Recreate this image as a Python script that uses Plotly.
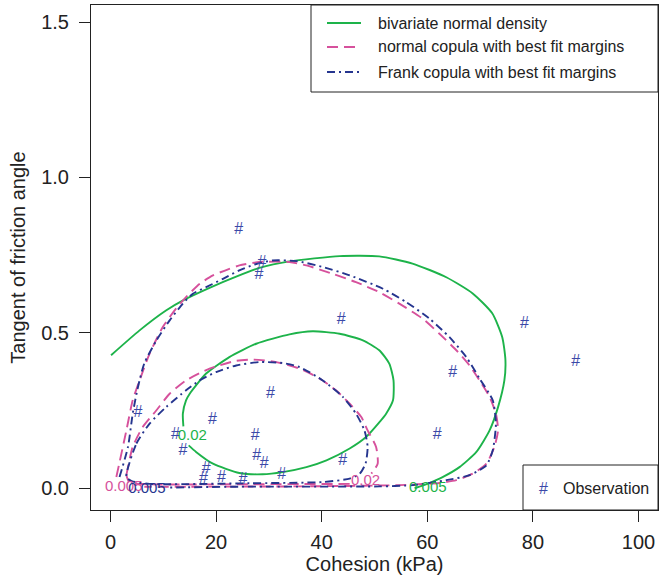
import plotly.graph_objects as go

# ---- observations (Cohesion kPa, tan(phi)) ----
obs_c = [24.3, 28.7, 28.1, 43.7, 30.3, 5.2, 19.3, 12.3, 13.7, 27.4, 27.7,
         29.1, 18.1, 17.6, 21.0, 25.1, 32.4, 44.0, 61.9, 64.8, 78.4, 88.1]
obs_t = [0.832, 0.726, 0.687, 0.543, 0.302, 0.243, 0.220, 0.170, 0.120, 0.167, 0.103,
         0.077, 0.061, 0.029, 0.033, 0.028, 0.042, 0.088, 0.170, 0.370, 0.530, 0.405]

# ---- bivariate normal density contours ----
bn005_c = [0.1, 5.5, 10.5, 14.0, 18.75, 23.8, 28.2, 33.9, 43.4, 50.9, 57.2, 63.6, 68.6,
           72.3, 74.2, 74.8, 74.6, 73.4, 71.8, 69.3, 66.1, 62.9, 60.1, 57.6]
bn005_t = [0.428, 0.508, 0.572, 0.607, 0.645, 0.681, 0.709, 0.730, 0.747, 0.746, 0.723, 0.679,
           0.627, 0.563, 0.486, 0.412, 0.347, 0.261, 0.186, 0.117, 0.068, 0.036, 0.015, 0.0]
bn02_c = [13.8, 13.7, 14.3, 15.0, 16.2, 18.1, 22.5, 27.6, 33.9, 38.3, 43.4, 47.8, 50.9, 52.8,
          53.6, 53.5, 52.2, 50.9, 48.4, 45.3, 40.9, 37.1, 32.6, 28.8, 24.4, 19.4, 16.2, 14.8]
bn02_t = [0.199, 0.240, 0.283, 0.304, 0.331, 0.369, 0.422, 0.465, 0.495, 0.505, 0.497, 0.476,
          0.444, 0.401, 0.347, 0.283, 0.240, 0.212, 0.165, 0.128, 0.090, 0.068, 0.052, 0.045,
          0.049, 0.079, 0.117, 0.138]

# ---- normal copula contours ----
nc005_c = [1.1, 3.0, 4.2, 5.5, 7.4, 9.9, 12.4, 14.3, 16.9, 19.4, 22.5, 24.4, 28.2, 33.9, 37.1,
           42.1, 46.5, 50.9, 54.7, 59.1, 62.3, 65.5, 68.0, 69.9, 71.8, 73.0, 73.4, 72.7, 71.2,
           68.6, 65.5, 62.3, 54.7, 35.8, 16.9, 6.4]
nc005_t = [0.036, 0.186, 0.283, 0.347, 0.433, 0.519, 0.578, 0.615, 0.658, 0.685, 0.706, 0.717,
           0.728, 0.728, 0.717, 0.690, 0.663, 0.631, 0.594, 0.546, 0.497, 0.444, 0.395, 0.347,
           0.294, 0.240, 0.186, 0.133, 0.079, 0.047, 0.026, 0.017, 0.010, 0.006, 0.005, 0.005]
nc02_c = [3.0, 4.2, 6.1, 8.7, 11.2, 14.3, 18.75, 23.8, 27.0, 31.4, 35.8, 39.6, 42.7, 45.3, 47.5,
          48.7, 50.3, 50.6, 49.4, None, 45.3, 26.3, 7.4, 3.6, 3.0]
nc02_t = [0.042, 0.133, 0.197, 0.251, 0.304, 0.347, 0.385, 0.410, 0.414, 0.406, 0.385, 0.353,
          0.315, 0.272, 0.229, 0.186, 0.133, 0.079, 0.047, None, 0.014, 0.013, 0.013, 0.019, 0.042]

# ---- Frank copula contours ----
fc005_c = [1.7, 3.3, 4.2, 5.2, 6.4, 8.7, 11.2, 13.7, 15.6, 18.1, 21.3, 24.4, 27.3, 30.7, 35.2,
           40.2, 45.3, 51.6, 56.0, 60.4, 64.2, 67.4, 69.9, 72.4, 73.0, 72.4, 71.2, 68.0, 63.6,
           57.3, 50.9, 24.4, 10.5]
fc005_t = [0.036, 0.133, 0.240, 0.326, 0.402, 0.476, 0.540, 0.594, 0.626, 0.647, 0.674, 0.701,
           0.720, 0.733, 0.731, 0.712, 0.685, 0.642, 0.599, 0.546, 0.486, 0.422, 0.353, 0.283,
           0.208, 0.122, 0.074, 0.042, 0.026, 0.010, 0.006, 0.005, 0.002]
fc02_c = [3.0, 4.9, 7.4, 10.5, 14.3, 16.9, 20.0, 23.8, 28.2, 32.6, 35.8, 40.2, 44.0, 46.5, 48.1,
          48.7, 48.3, 47.2, 45.3, 40.2, 26.3, 7.4, 4.0, 3.0]
fc02_t = [0.036, 0.144, 0.208, 0.261, 0.315, 0.347, 0.374, 0.395, 0.406, 0.403, 0.390, 0.347,
          0.294, 0.240, 0.186, 0.133, 0.079, 0.047, 0.031, 0.020, 0.016, 0.014, 0.023, 0.036]

# ---- contour labels ----
lab_text = ["0.02", "0.005", "0.02", "0.005", "0.005"]
lab_c = [15.5, 60.1, 48.3, 2.5, 6.9]
lab_t = [0.167, 0.000, 0.022, 0.003, -0.003]
lab_col_key = ["bn", "bn", "nc", "nc", "fc"]

legend_names = ["bivariate normal density", "normal copula with best fit margins",
                "Frank copula with best fit margins"]
legend_keys = ["bn", "nc", "fc"]
obs_name = "Observation"

x_ticks = [0, 20, 40, 60, 80, 100]
y_ticks = [0.0, 0.5, 1.0, 1.5]

GREEN = "#1db34a"
PINK = "#d6519c"
NAVY = "#25358f"
OBS = "#3b49a8"
INK = "#222222"
FONT = "Liberation Sans, Arial, sans-serif"
colmap = {"bn": GREEN, "nc": PINK, "fc": NAVY}
dashmap = {"bn": "solid", "nc": "11px,6px", "fc": "8px,4px,2px,4px"}
LW = 1.9

W, H = 659, 578
ML, MR, MT, MB = 91, 1, 5, 68
PW, PH = W - ML - MR, H - MT - MB


def px(xp):
    return (xp - ML) / PW


def py(yp):
    return (H - MB - yp) / PH


fig = go.Figure()


def add_line(xs, ys, key):
    fig.add_trace(go.Scatter(x=xs, y=ys, mode="lines", showlegend=False, connectgaps=False,
                             line=dict(color=colmap[key], width=LW, dash=dashmap[key],
                                       shape="spline", smoothing=0.6)))


add_line(bn005_c, bn005_t, "bn")
add_line(bn02_c, bn02_t, "bn")
add_line(nc005_c, nc005_t, "nc")
add_line(nc02_c, nc02_t, "nc")
add_line(fc005_c, fc005_t, "fc")
add_line(fc02_c, fc02_t, "fc")

fig.add_trace(go.Scatter(x=lab_c, y=lab_t, mode="text", text=lab_text, showlegend=False,
                         textfont=dict(family=FONT, size=15, color=[colmap[k] for k in lab_col_key])))

fig.add_trace(go.Scatter(x=obs_c, y=obs_t, mode="text", text=["#"] * len(obs_c), showlegend=False,
                         textfont=dict(family=FONT, size=16, color=OBS)))

# ---- legends drawn as boxes with line samples ----
shapes = [dict(type="rect", xref="paper", yref="paper", x0=px(311), x1=1, y0=py(92), y1=1,
               line=dict(color=INK, width=1), fillcolor="rgba(0,0,0,0)", layer="above"),
          dict(type="rect", xref="paper", yref="paper", x0=px(523), x1=1, y0=0, y1=py(465),
               line=dict(color=INK, width=1), fillcolor="rgba(0,0,0,0)", layer="above")]
annotations = []
row_y = [23, 47, 72]
for name, key, ry in zip(legend_names, legend_keys, row_y):
    shapes.append(dict(type="line", xref="paper", yref="paper", x0=px(327), x1=px(361),
                       y0=py(ry), y1=py(ry), line=dict(color=colmap[key], width=LW, dash=dashmap[key])))
    annotations.append(dict(xref="paper", yref="paper", x=px(376), y=py(ry), text=name,
                            showarrow=False, xanchor="left", yanchor="middle",
                            font=dict(family=FONT, size=16, color=INK)))
annotations.append(dict(xref="paper", yref="paper", x=px(543), y=py(488), text="#",
                        showarrow=False, xanchor="center", yanchor="middle",
                        font=dict(family=FONT, size=16, color=OBS)))
annotations.append(dict(xref="paper", yref="paper", x=px(561), y=py(488), text=obs_name,
                        showarrow=False, xanchor="left", yanchor="middle",
                        font=dict(family=FONT, size=16, color=INK)))

axis_common = dict(showline=True, mirror=True, linecolor=INK, linewidth=1, ticks="outside",
                   ticklen=11, tickwidth=1, tickcolor=INK, showgrid=False, zeroline=False,
                   tickfont=dict(family=FONT, size=20, color=INK))

fig.update_layout(
    width=W, height=H,
    margin=dict(l=ML, r=MR, t=MT, b=MB),
    plot_bgcolor="white", paper_bgcolor="white",
    font=dict(family=FONT, size=16, color=INK),
    showlegend=False,
    xaxis=dict(range=[-3.7, 103.7], tickvals=x_ticks, ticklabelstandoff=3,
               title=dict(text="Cohesion (kPa)", font=dict(family=FONT, size=20), standoff=2),
               **axis_common),
    yaxis=dict(range=[-0.07, 1.555], tickvals=y_ticks, tickformat=".1f", ticklabelstandoff=6,
               title=dict(text="Tangent of friction angle", font=dict(family=FONT, size=20), standoff=10),
               **axis_common),
    shapes=shapes,
    annotations=annotations,
)

fig.write_html("out.html")
